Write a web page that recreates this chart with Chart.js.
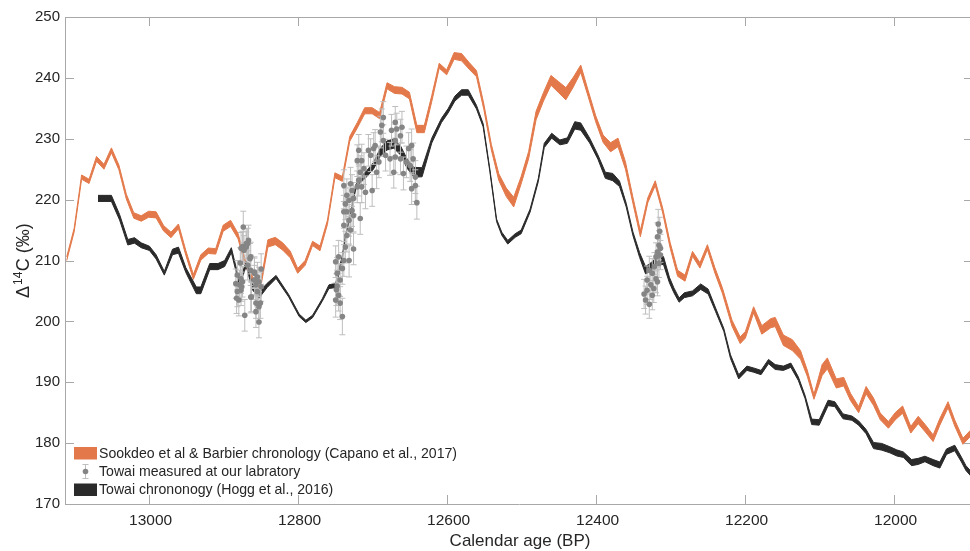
<!DOCTYPE html>
<html><head><meta charset="utf-8">
<script src="https://cdn.jsdelivr.net/npm/chart.js@4.4.1/dist/chart.umd.min.js"></script>
<style>html,body{margin:0;padding:0;background:#fff;overflow:hidden;}#wrap{width:970px;height:551px;position:relative;overflow:hidden;}canvas{display:block;}</style>
</head><body><div id="wrap"><canvas id="c" width="977" height="551"></canvas></div>
<script>
// ---- tick labels ----
const xTicks = [13000, 12800, 12600, 12400, 12200, 12000];
const yTicks = [170, 180, 190, 200, 210, 220, 230, 240, 250];

// ---- Sookdeo et al & Barbier chronology (Capano et al., 2017): year BP, mean, 1 sigma ----
const orangeYears = [13110,13100,13090,13080,13070,13060,13050,13040,13030,13020,13010,13000,12990,12980,12970,12960,12950,12940,12930,12920,12910,12900,12890,12880,12870,12860,12850,12840,12830,12820,12810,12800,12790,12780,12770,12760,12750,12740,12730,12720,12710,12700,12690,12680,12670,12660,12650,12640,12630,12620,12610,12600,12590,12580,12570,12560,12550,12540,12530,12520,12510,12500,12490,12480,12470,12460,12450,12440,12430,12420,12410,12400,12390,12380,12370,12360,12350,12340,12330,12320,12310,12300,12290,12280,12270,12260,12250,12240,12230,12217,12206,12199,12188,12177,12165,12159,12148,12136,12125,12116,12107,12096,12089,12077,12067,12058,12047,12037,12027,12018,12007,11998,11988,11977,11967,11958,11947,11938,11927,11918,11907,11897];
const orangeMean = [210.3,215.0,223.7,223.0,226.7,225.4,228.1,225.3,220.5,217.4,216.9,217.6,217.5,215.3,214.2,215.6,211.2,207.3,210.5,211.6,211.5,215.3,216.1,214.0,209.5,206.8,205.7,212.8,213.2,212.3,211.0,208.3,209.6,212.8,212.0,216.3,224.0,223.4,230.0,232.2,234.6,234.6,233.8,238.7,238.0,237.9,237.1,231.6,231.6,236.6,242.0,240.9,243.6,243.4,242.0,240.7,235.2,228.6,223.7,221.2,219.6,223.2,227.3,233.8,236.9,239.6,238.5,237.4,239.3,241.5,237.4,233.3,230.0,228.6,229.4,225.6,219.9,214.4,219.9,222.7,218.2,212.5,207.9,207.1,211.1,209.2,212.2,208.4,205.1,199.7,196.9,197.8,201.9,198.6,199.7,199.9,196.9,196.1,194.5,191.5,187.6,192.0,193.1,189.8,190.1,187.6,185.5,188.7,186.8,184.4,183.0,184.4,185.5,182.2,183.8,182.5,180.8,183.5,186.3,183.3,180.3,181.6];
const orangeSigma = [0.3,0.3,0.35,0.35,0.4,0.4,0.4,0.4,0.4,0.45,0.45,0.5,0.5,0.45,0.45,0.4,0.4,0.4,0.45,0.45,0.45,0.5,0.5,0.45,0.4,0.4,0.4,0.6,0.6,0.6,0.55,0.4,0.4,0.35,0.4,0.35,0.4,0.4,0.4,0.45,0.5,0.5,0.5,0.5,0.55,0.55,0.55,0.6,0.6,0.5,0.4,0.4,0.55,0.6,0.55,0.5,0.45,0.45,0.55,0.7,0.8,0.6,0.6,0.7,0.7,0.8,0.9,1.0,0.8,0.6,0.5,0.5,0.6,0.75,0.7,0.6,0.5,0.5,0.4,0.4,0.4,0.45,0.5,0.5,0.4,0.45,0.4,0.45,0.45,0.5,0.55,0.55,0.5,0.7,0.75,0.75,0.85,0.9,0.7,0.5,0.4,0.9,0.9,0.75,0.7,0.6,0.5,0.6,0.6,0.55,0.55,0.6,0.6,0.55,0.6,0.6,0.55,0.55,0.5,0.5,0.5,0.5];

// ---- Towai chronology (Hogg et al., 2016): year BP, mean, 1 sigma ----
const blackYears = [13068,13050,13039,13028,13019,13010,12999,12990,12979,12968,12960,12950,12936,12930,12918,12907,12898,12889,12878,12869,12861,12852,12841,12829,12812,12798,12789,12780,12767,12758,12749,12740,12736,12729,12722,12716,12707,12698,12689,12680,12671,12662,12653,12644,12633,12620,12607,12598,12589,12580,12571,12560,12551,12542,12533,12526,12518,12508,12500,12488,12477,12469,12459,12448,12438,12428,12420,12408,12397,12387,12377,12368,12359,12350,12341,12333,12325,12317,12309,12301,12295,12288,12281,12270,12259,12249,12239,12228,12219,12208,12197,12188,12178,12168,12159,12148,12138,12128,12119,12110,12100,12088,12079,12068,12056,12047,12037,12027,12016,12005,11996,11987,11976,11967,11958,11947,11938,11929,11918,11909,11903,11895];
const blackMean = [220.2,220.2,217.1,213.0,213.3,212.5,212.0,210.6,207.9,211.4,211.7,208.4,205.1,205.1,209.0,209.0,209.5,211.7,206.2,209.5,205.7,204.3,205.9,207.3,204.2,201.0,200.0,200.8,203.5,205.7,205.9,210.6,213.9,217.7,222.1,223.2,224.3,225.6,227.8,228.9,229.2,228.1,225.9,224.5,224.5,229.7,233.0,234.6,236.6,237.6,237.6,235.2,232.2,224.8,216.6,214.4,213.0,214.1,214.7,218.2,223.2,228.9,230.5,229.4,229.7,232.2,232.0,229.7,227.0,224.0,223.7,222.6,219.1,214.4,210.9,208.4,209.0,210.0,210.0,206.8,205.1,203.5,204.3,204.6,205.7,204.9,201.9,198.6,194.2,190.9,192.3,192.0,191.6,193.4,192.5,192.3,192.8,190.6,187.6,183.5,183.4,186.6,186.4,184.4,184.1,183.3,181.9,179.6,179.4,178.9,178.4,178.1,176.8,177.0,177.4,176.8,176.4,178.6,179.2,177.3,175.9,174.8];
const blackSigma = [0.5,0.5,0.45,0.45,0.45,0.4,0.35,0.35,0.3,0.45,0.5,0.4,0.55,0.55,0.5,0.5,0.5,0.4,0.35,0.4,0.45,0.5,0.35,0.25,0.2,0.2,0.2,0.2,0.2,0.3,0.35,0.25,0.2,0.2,0.35,0.45,0.5,0.55,0.65,0.75,0.75,0.75,0.75,0.8,0.75,0.4,0.35,0.35,0.4,0.45,0.45,0.3,0.25,0.2,0.2,0.25,0.3,0.3,0.3,0.25,0.25,0.35,0.4,0.4,0.45,0.6,0.6,0.4,0.35,0.5,0.6,0.45,0.3,0.3,0.4,0.6,0.7,0.7,0.65,0.45,0.4,0.35,0.4,0.4,0.45,0.4,0.3,0.25,0.3,0.35,0.35,0.35,0.35,0.35,0.4,0.35,0.35,0.3,0.25,0.45,0.45,0.45,0.4,0.4,0.35,0.35,0.35,0.5,0.55,0.5,0.5,0.45,0.5,0.5,0.45,0.5,0.5,0.45,0.45,0.4,0.4,0.4];

// ---- Towai measured at our labratory: year BP, value, error ----
const towaiYears = [12883,12882,12881,12881,12879,12878,12877,12876,12876,12876,12875,12874,12874,12873,12872,12871,12869,12869,12867,12867,12866,12864,12863,12863,12863,12862,12858,12858,12858,12856,12856,12856,12854,12854,12852,12852,12852,12850,12849,12849,
 12740,12749,12743,12745,12743,12747,12749,12745,12740,12738,12731,12736,12725,12734,12729,12738,12731,12725,12734,12738,12727,12736,12731,12725,12716,12734,12727,12738,12729,12720,12714,12709,12700,12718,12716,12720,12718,12714,12711,12705,12702,12698,12696,12694,12691,12689,12687,12685,12682,12676,12671,12674,12669,12667,12660,12662,12669,12662,12658,12654,12651,12647,12649,12645,12642,12647,12642,12640,12669,12685,12748,12747,
 12317,12315,12317,12319,12313,12315,12328,12324,12331,12319,12326,12322,12331,12324,12317,12333,12335,12328,12314,12316,12321,12313];
const towaiValues = [206.2,203.8,207.6,204.9,203.5,206.0,209.6,212.0,207.0,205.1,205.7,206.5,212.3,215.5,211.7,201.0,212.2,212.8,212.8,209.2,213.3,210.3,210.6,208.4,204.0,204.0,207.9,206.8,208.1,206.0,203.0,201.6,207.3,204.9,206.5,202.4,199.9,203.0,205.7,208.6,
 200.8,203.5,203.0,204.3,206.8,207.9,209.8,210.6,208.7,210.0,210.0,212.2,211.9,214.1,215.0,215.8,216.6,217.4,218.0,218.0,218.2,219.3,219.9,220.2,216.9,220.7,221.5,222.3,222.6,222.1,222.1,221.2,221.5,223.2,224.5,226.4,228.1,226.4,225.1,228.1,227.3,228.4,228.9,224.5,226.2,231.1,232.2,229.7,227.3,226.7,224.5,231.4,229.7,231.6,231.9,230.5,227.0,226.7,224.3,226.2,228.4,228.9,225.6,226.7,223.7,221.8,222.3,219.5,232.7,233.5,205.2,205.8,
 213.9,212.5,211.4,210.6,210.9,209.5,208.4,207.9,206.8,207.0,206.0,205.4,205.1,204.3,206.5,203.5,204.5,202.8,214.8,216.0,209.0,212.0];
const towaiErrors = [2.4,2.5,2.4,2.5,2.6,2.4,2.5,2.6,2.4,2.5,2.4,2.5,2.5,2.6,2.4,2.6,2.5,2.4,2.5,2.4,2.5,2.5,2.4,2.5,2.6,2.4,2.5,2.4,2.5,2.4,2.5,2.6,2.4,2.5,2.4,2.5,2.6,2.5,2.4,2.5,
 3.0,2.8,2.7,2.6,2.7,2.6,2.6,2.7,2.6,2.6,2.7,2.6,2.6,2.7,2.6,2.7,2.6,2.7,2.6,2.7,2.6,2.6,2.7,2.6,2.6,2.7,2.6,2.6,2.7,2.6,2.6,2.7,2.6,2.6,2.7,2.6,2.6,2.7,2.6,2.6,2.7,2.6,2.6,2.7,2.6,2.6,2.7,2.6,2.6,2.7,2.6,2.6,2.7,2.6,2.6,2.7,2.6,2.6,2.7,2.6,2.6,2.7,2.6,2.6,2.7,2.6,2.6,2.7,2.6,2.6,2.6,2.6,
 2.3,2.4,2.3,2.3,2.4,2.3,2.3,2.4,2.3,2.3,2.4,2.3,2.3,2.4,2.3,2.3,2.4,2.3,2.3,2.4,2.3,2.3];

// ---- labels ----
const legendLabels = ['Sookdeo et al & Barbier chronology (Capano et al., 2017)', 'Towai measured at our labratory', 'Towai chrononogy (Hogg et al., 2016)'];
const xTitle = 'Calendar age (BP)';

// ---- style ----
const ORANGE = '#E3794A', BLACK = '#2A2A2A', PTCOL = '#858585', ERRCOL = '#BEBEBE', AXIS = '#A8A8A8', TXT = '#262626';
const FONT = '"Liberation Sans", Arial, Helvetica, sans-serif';

const toPts = (xs, ys) => xs.map((x, i) => ({x, y: ys[i]}));
const band = (xs, m, s, sign) => xs.map((x, i) => ({x, y: m[i] + sign * s[i]}));

const errPlugin = {
  id: 'errbars',
  beforeDatasetDraw(chart, args) {
    if (args.index !== 4) return;
    const {ctx, scales: {x, y}, chartArea: a} = chart;
    ctx.save();
    ctx.beginPath(); ctx.rect(a.left, a.top, a.right - a.left, a.bottom - a.top); ctx.clip();
    ctx.strokeStyle = ERRCOL; ctx.lineWidth = 1;
    ctx.beginPath();
    towaiYears.forEach((yr, i) => {
      const px = x.getPixelForValue(yr);
      const p1 = y.getPixelForValue(towaiValues[i] + towaiErrors[i]);
      const p2 = y.getPixelForValue(towaiValues[i] - towaiErrors[i]);
      ctx.moveTo(px, p1); ctx.lineTo(px, p2);
      ctx.moveTo(px - 3, p1); ctx.lineTo(px + 3, p1);
      ctx.moveTo(px - 3, p2); ctx.lineTo(px + 3, p2);
    });
    ctx.stroke();
    ctx.restore();
  }
};

const decoPlugin = {
  id: 'deco',
  afterDraw(chart) {
    const {ctx, chartArea: {left, right, top, bottom}, scales: {x, y}} = chart;
    ctx.save();
    ctx.strokeStyle = AXIS; ctx.lineWidth = 1;
    ctx.beginPath();
    ctx.moveTo(left, top + 0.5); ctx.lineTo(right, top + 0.5);
    ctx.moveTo(right - 0.5, top); ctx.lineTo(right - 0.5, bottom);
    xTicks.forEach(v => {
      const px = Math.round(x.getPixelForValue(v)) + 0.5;
      ctx.moveTo(px, bottom); ctx.lineTo(px, bottom - 9);
      ctx.moveTo(px, top); ctx.lineTo(px, top + 9);
    });
    yTicks.forEach(v => {
      const py = Math.round(y.getPixelForValue(v)) + 0.5;
      ctx.moveTo(left, py); ctx.lineTo(left + 9, py);
      ctx.moveTo(right, py); ctx.lineTo(right - 9, py);
    });
    ctx.stroke();

    // legend
    ctx.fillStyle = ORANGE; ctx.fillRect(74, 447, 23, 12.5);
    ctx.fillStyle = BLACK; ctx.fillRect(74, 483.5, 23, 12.5);
    ctx.strokeStyle = ERRCOL; ctx.beginPath();
    ctx.moveTo(85.5, 464.5); ctx.lineTo(85.5, 478.5);
    ctx.moveTo(82.5, 464.5); ctx.lineTo(88.5, 464.5);
    ctx.moveTo(82.5, 478.5); ctx.lineTo(88.5, 478.5);
    ctx.stroke();
    ctx.fillStyle = PTCOL; ctx.beginPath(); ctx.arc(85.5, 471.5, 2.8, 0, Math.PI * 2); ctx.fill();
    ctx.fillStyle = TXT; ctx.font = '14.1px ' + FONT; ctx.textBaseline = 'middle'; ctx.textAlign = 'left';
    ctx.fillText(legendLabels[0], 99, 454);
    ctx.fillText(legendLabels[1], 99, 472);
    ctx.fillText(legendLabels[2], 99, 490);

    // x title
    ctx.font = '17px ' + FONT; ctx.textAlign = 'center'; ctx.textBaseline = 'middle';
    ctx.fillText(xTitle, 520, 541);

    // y title  Δ14C (‰)
    ctx.save();
    ctx.translate(28.5, 298); ctx.rotate(-Math.PI / 2);
    ctx.textAlign = 'left'; ctx.textBaseline = 'alphabetic';
    ctx.font = '18px ' + FONT;
    ctx.fillText('\u0394', 0, 0);
    let w = ctx.measureText('\u0394').width + 1;
    ctx.font = '12px ' + FONT;
    ctx.fillText('14', w, -7);
    w += ctx.measureText('14').width + 0.5;
    ctx.font = '18px ' + FONT;
    ctx.fillText('C (\u2030)', w, 0);
    ctx.restore();
    ctx.restore();
  }
};

new Chart(document.getElementById('c'), {
  type: 'line',
  data: {
    datasets: [
      {data: band(orangeYears, orangeMean, orangeSigma, -1), borderColor: ORANGE, borderWidth: 1, pointRadius: 0, fill: false, tension: 0, order: 2},
      {data: band(orangeYears, orangeMean, orangeSigma, 1), borderColor: ORANGE, backgroundColor: ORANGE, borderWidth: 1, pointRadius: 0, fill: 0, tension: 0, order: 2},
      {data: band(blackYears, blackMean, blackSigma, -1), borderColor: BLACK, borderWidth: 1, pointRadius: 0, fill: false, tension: 0, order: 1},
      {data: band(blackYears, blackMean, blackSigma, 1), borderColor: BLACK, backgroundColor: BLACK, borderWidth: 1, pointRadius: 0, fill: 2, tension: 0, order: 1},
      {data: toPts(towaiYears, towaiValues), showLine: false, pointRadius: 2.8, pointBackgroundColor: PTCOL, pointBorderWidth: 0, pointBorderColor: PTCOL, order: 0}
    ]
  },
  options: {
    responsive: false, animation: false, devicePixelRatio: 1,
    layout: {padding: {left: 0, right: 0, top: 17, bottom: 0}},
    plugins: {legend: {display: false}, tooltip: {enabled: false}},
    scales: {
      x: {
        type: 'linear', reverse: true, min: 11893.5, max: 13112.3,
        grid: {display: false, drawTicks: false},
        border: {display: true, color: AXIS, width: 1},
        ticks: {color: TXT, font: {family: FONT, size: 15.5}, padding: 7, maxRotation: 0, labelOffset: 2, callback: v => String(v)},
        afterBuildTicks: s => { s.ticks = xTicks.map(v => ({value: v})); },
        afterFit: s => { s.height = 47; s.paddingLeft = 0; s.paddingRight = 0; }
      },
      y: {
        type: 'linear', min: 170, max: 250,
        grid: {display: false, drawTicks: false},
        border: {display: true, color: AXIS, width: 1},
        ticks: {color: TXT, font: {family: FONT, size: 15}, padding: 5, callback: v => String(v)},
        afterBuildTicks: s => { s.ticks = yTicks.map(v => ({value: v})); },
        afterFit: s => { s.width = 65; s.paddingTop = 0; s.paddingBottom = 0; }
      }
    }
  },
  plugins: [errPlugin, decoPlugin]
});
</script>
</body></html>
